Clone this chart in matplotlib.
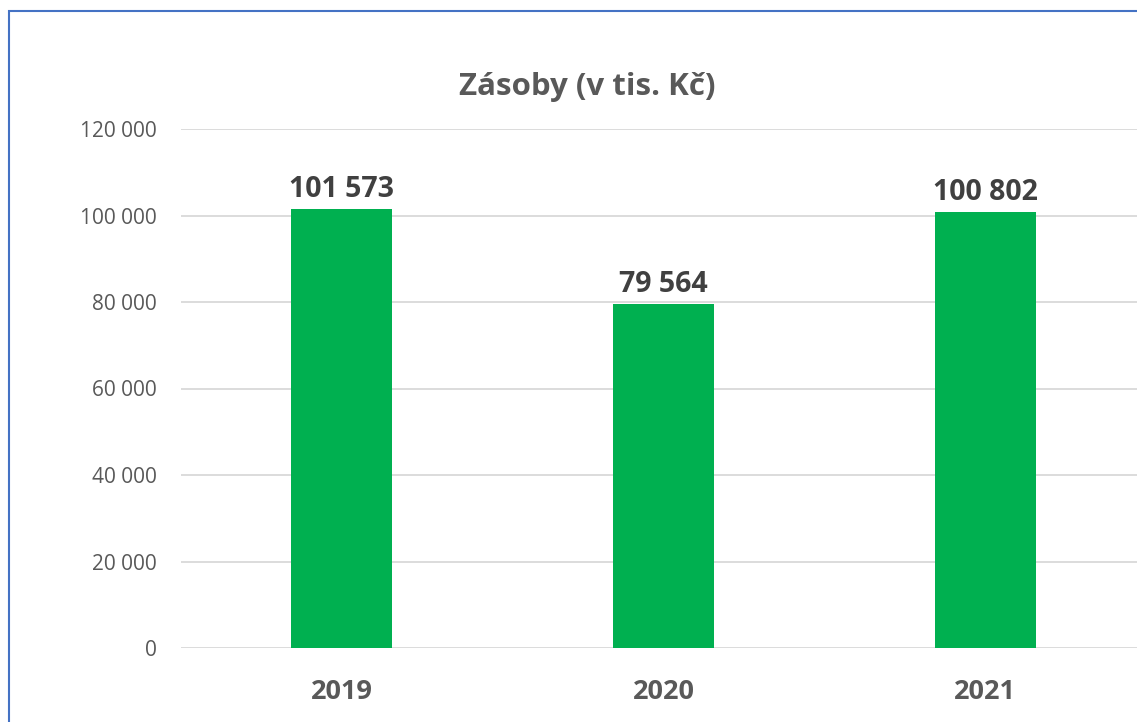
import matplotlib.pyplot as plt
from matplotlib.patches import Rectangle
from matplotlib.ticker import FuncFormatter

plt.rcParams['font.family'] = ['Open Sans', 'DejaVu Sans']

years = ['2019', '2020', '2021']
zasoby = [101573, 79564, 100802]
y_ticks = [0, 20000, 40000, 60000, 80000, 100000, 120000]


def cz_format(v, pos=None):
    return f'{int(v):,}'.replace(',', ' ')


W, H = 1137, 722
fig = plt.figure(figsize=(W / 100, H / 100), dpi=100)
ax = fig.add_axes([181 / W, (H - 648) / H, (1146 - 181) / W, 519 / H])

x = range(len(years))
ax.bar(x, zasoby, width=0.314, color='#00B050', zorder=3)
ax.set_xlim(-0.5, len(years) - 0.5)
ax.set_ylim(0, 120000)
ax.set_yticks(y_ticks)
ax.yaxis.set_major_formatter(FuncFormatter(cz_format))
ax.set_xticks(list(x))
ax.set_xticklabels(years, fontsize=19.5, fontweight='bold', color='#595959')
ax.tick_params(axis='y', labelsize=15, colors='#595959', length=0, pad=17.5)
ax.tick_params(axis='x', length=0, pad=22)
ax.grid(axis='y', color='#D9D9D9', linewidth=1.3, zorder=0)
for s in ax.spines.values():
    s.set_visible(False)

for xi, v in zip(x, zasoby):
    ax.text(xi, v + 1200, cz_format(v), ha='center', va='bottom',
            fontsize=20.5, fontweight='bold', color='#404040')

fig.text(587 / W, 1 - 87 / H, 'Zásoby (v tis. Kč)', ha='center', va='center',
         fontsize=22.5, fontweight='bold', color='#595959')

fig.patches.append(Rectangle((8.5 / W, -0.1), 1.2, 1 - 10.5 / H + 0.1,
                             transform=fig.transFigure, fill=False,
                             edgecolor='#4472C4', linewidth=1.5))

fig.savefig('out.png', dpi=100)
